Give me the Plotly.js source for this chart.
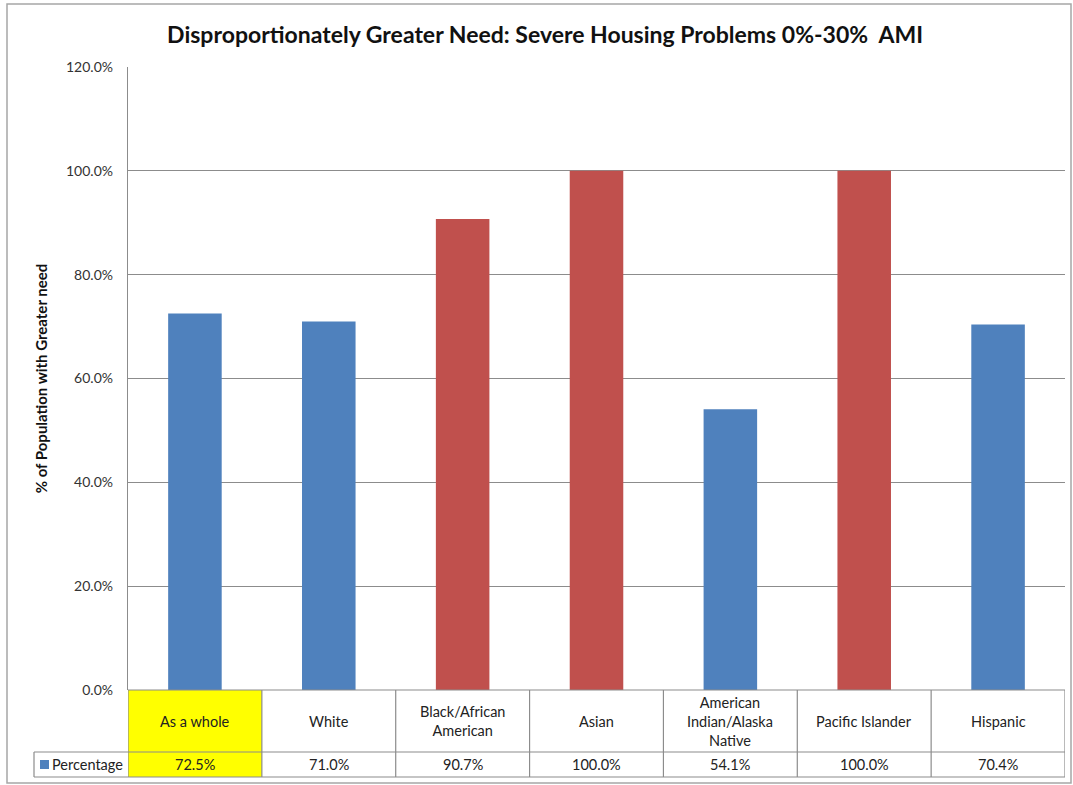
<!DOCTYPE html>
<html>
<head>
<meta charset="utf-8">
<script src="https://cdn.plot.ly/plotly-3.0.1.min.js"></script>
<style>html,body{margin:0;padding:0;background:#fff;}#chart{width:1073px;height:785px;}</style>
</head>
<body>
<div id="chart"></div>
<script>
// ---- data ----
const categories = ["As a whole", "White", "Black/African American", "Asian", "American Indian/Alaska Native", "Pacific Islander", "Hispanic"];
const categoryLabels = ["As a whole", "White", "Black/African<br>American", "Asian", "American<br>Indian/Alaska<br>Native", "Pacific Islander", "Hispanic"];
const percentages = [0.725, 0.710, 0.907, 1.000, 0.541, 1.000, 0.704];
const seriesName = "Percentage";
const yTickVals = [0, 0.2, 0.4, 0.6, 0.8, 1.0, 1.2];

// ---- styling ----
const BLUE = "#4F81BD", RED = "#C0504D", GRID = "#8C8C8C", FONT = "Lato, 'Open Sans', sans-serif";
const W = 1073, H = 785;
const PL = 128, PR = 1065, PT = 67, PB = 690;
const px2x = p => (p - PL) / (PR - PL);
const py2y = p => (PB - p) / (PB - PT);

// disproportionately greater need: more than 10 points above the jurisdiction as a whole
const whole = percentages[0];
const colors = percentages.map((v, i) => (i > 0 && v > whole + 0.10) ? RED : BLUE);
const xs = categories.map((c, i) => i);

const trace = {
  type: "bar",
  x: xs,
  y: percentages,
  name: seriesName,
  width: 0.4,
  marker: {color: colors, line: {width: 0}},
  hoverinfo: "skip",
  showlegend: false
};

const rowSplit = 752, rowBottom = 777, legendLeft = 34;
const shapes = [];
// outer chart border
shapes.push({type: "rect", xref: "paper", yref: "paper", x0: px2x(7), x1: px2x(1071), y0: py2y(783), y1: py2y(4),
  line: {color: "#A6A6A6", width: 1.5}, fillcolor: "rgba(0,0,0,0)", layer: "below"});
// yellow highlight for first column
shapes.push({type: "rect", xref: "x", yref: "paper", x0: -0.5, x1: 0.5, y0: py2y(rowBottom), y1: 0,
  line: {width: 0}, fillcolor: "#FFFF00", layer: "below"});
// table horizontal lines
shapes.push({type: "line", xref: "x", yref: "paper", x0: -0.5, x1: categories.length - 0.5, y0: 0, y1: 0, line: {color: GRID, width: 1.2}});
[rowSplit, rowBottom].forEach(p => shapes.push({type: "line", xref: "paper", yref: "paper",
  x0: px2x(legendLeft), x1: px2x(PR), y0: py2y(p), y1: py2y(p), line: {color: GRID, width: 1.2}}));
// table vertical lines
for (let i = 0; i <= categories.length; i++) {
  shapes.push({type: "line", xref: "x", yref: "paper", x0: i - 0.5, x1: i - 0.5, y0: py2y(rowBottom), y1: 0, line: {color: GRID, width: 1.2}});
}
shapes.push({type: "line", xref: "paper", yref: "paper", x0: px2x(legendLeft), x1: px2x(legendLeft), y0: py2y(rowBottom), y1: py2y(rowSplit), line: {color: GRID, width: 1.2}});
// legend key square
shapes.push({type: "rect", xref: "paper", yref: "paper", x0: px2x(40), x1: px2x(49), y0: py2y(769), y1: py2y(760),
  line: {width: 0}, fillcolor: BLUE});

const annotations = [];
categoryLabels.forEach((lab, i) => {
  annotations.push({xref: "x", yref: "paper", x: i, y: py2y((PB + rowSplit) / 2), text: lab, showarrow: false,
    xanchor: "center", yanchor: "middle", align: "center", font: {family: FONT, size: 14.5, color: "#222"}});
  annotations.push({xref: "x", yref: "paper", x: i, y: py2y((rowSplit + rowBottom) / 2), text: (percentages[i] * 100).toFixed(1) + "%",
    showarrow: false, xanchor: "center", yanchor: "middle", font: {family: FONT, size: 14.5, color: "#222"}});
});
annotations.push({xref: "paper", yref: "paper", x: px2x(50), y: py2y((rowSplit + rowBottom) / 2), text: seriesName,
  showarrow: false, xanchor: "left", yanchor: "middle", font: {family: FONT, size: 14.5, color: "#222"}});

const layout = {
  width: W, height: H,
  margin: {l: PL, r: W - PR, t: PT, b: H - PB, pad: 0},
  paper_bgcolor: "#fff", plot_bgcolor: "#fff",
  font: {family: FONT, color: "#333"},
  title: {text: "<b>Disproportionately Greater Need: Severe Housing Problems 0%-30%  AMI</b>",
    font: {family: FONT, size: 23, color: "#111"}, x: 0.508, xanchor: "center", y: 1 - 35 / H, yanchor: "middle"},
  xaxis: {range: [-0.5, categories.length - 0.5], showticklabels: false, showgrid: false, zeroline: false, showline: false, fixedrange: true},
  yaxis: {range: [0, 1.2], tickvals: yTickVals, tickformat: ".1%", showgrid: true, gridcolor: GRID, gridwidth: 1,
    zeroline: false, showline: true, linecolor: GRID, linewidth: 1.2, ticks: "", ticklabelstandoff: 11,
    tickfont: {family: FONT, size: 14, color: "#333"},
    title: {text: "<b>% of Population with Greater need</b>", font: {family: FONT, size: 15, color: "#111"}, standoff: 14}},
  shapes: shapes,
  annotations: annotations,
  bargap: 0.6,
  showlegend: false
};

Plotly.newPlot("chart", [trace], layout, {displayModeBar: false, staticPlot: true});
</script>
</body>
</html>
